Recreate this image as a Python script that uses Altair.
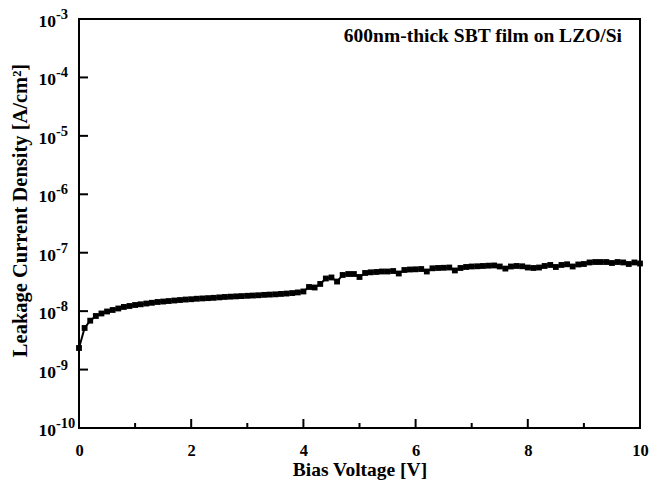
import altair as alt
import pandas as pd

# Bias voltage [V]
voltage = [
    0.0, 0.1, 0.2, 0.3, 0.4, 0.5, 0.6, 0.7, 0.8, 0.9,
    1.0, 1.1, 1.2, 1.3, 1.4, 1.5, 1.6, 1.7, 1.8, 1.9,
    2.0, 2.1, 2.2, 2.3, 2.4, 2.5, 2.6, 2.7, 2.8, 2.9,
    3.0, 3.1, 3.2, 3.3, 3.4, 3.5, 3.6, 3.7, 3.8, 3.9,
    4.0, 4.1, 4.2, 4.3, 4.4, 4.5, 4.6, 4.7, 4.8, 4.9,
    5.0, 5.1, 5.2, 5.3, 5.4, 5.5, 5.6, 5.7, 5.8, 5.9,
    6.0, 6.1, 6.2, 6.3, 6.4, 6.5, 6.6, 6.7, 6.8, 6.9,
    7.0, 7.1, 7.2, 7.3, 7.4, 7.5, 7.6, 7.7, 7.8, 7.9,
    8.0, 8.1, 8.2, 8.3, 8.4, 8.5, 8.6, 8.7, 8.8, 8.9,
    9.0, 9.1, 9.2, 9.3, 9.4, 9.5, 9.6, 9.7, 9.8, 9.9,
    10.0,
]

# Leakage current density [A/cm^2]
current = [
    2.34e-9, 5.15e-9, 6.87e-9, 8.26e-9, 9.12e-9, 9.86e-9, 1.047e-8, 1.11e-8, 1.18e-8, 1.225e-8,
    1.274e-8, 1.31e-8, 1.35e-8, 1.39e-8, 1.435e-8, 1.46e-8, 1.49e-8, 1.52e-8, 1.55e-8, 1.58e-8,
    1.60e-8, 1.63e-8, 1.65e-8, 1.67e-8, 1.69e-8, 1.72e-8, 1.75e-8, 1.77e-8, 1.79e-8, 1.81e-8,
    1.83e-8, 1.85e-8, 1.87e-8, 1.90e-8, 1.92e-8, 1.94e-8, 1.97e-8, 2.00e-8, 2.04e-8, 2.09e-8,
    2.17e-8, 2.59e-8, 2.54e-8, 2.92e-8, 3.62e-8, 3.77e-8, 3.21e-8, 4.16e-8, 4.32e-8, 4.32e-8,
    3.84e-8, 4.50e-8, 4.62e-8, 4.68e-8, 4.77e-8, 4.77e-8, 4.86e-8, 4.41e-8, 5.06e-8, 5.16e-8,
    5.20e-8, 5.26e-8, 4.77e-8, 5.41e-8, 5.48e-8, 5.52e-8, 5.58e-8, 4.97e-8, 5.48e-8, 5.70e-8,
    5.81e-8, 5.86e-8, 5.93e-8, 6.00e-8, 6.05e-8, 5.81e-8, 5.35e-8, 5.81e-8, 5.93e-8, 5.86e-8,
    5.58e-8, 5.48e-8, 5.58e-8, 5.93e-8, 6.17e-8, 5.70e-8, 6.17e-8, 6.34e-8, 5.81e-8, 6.29e-8,
    6.41e-8, 6.81e-8, 6.93e-8, 6.93e-8, 6.93e-8, 6.67e-8, 6.93e-8, 6.81e-8, 6.41e-8, 6.81e-8,
    6.54e-8,
]

x_major = [0, 2, 4, 6, 8, 10]
x_minor = [1, 3, 5, 7, 9]
y_decades = [1e-10, 1e-9, 1e-8, 1e-7, 1e-6, 1e-5, 1e-4, 1e-3]
y_base = ["10", "10", "10", "10", "10", "10", "10", "10"]
y_exponent = ["-10", "-9", "-8", "-7", "-6", "-5", "-4", "-3"]

annotation = ["600nm-thick SBT film on LZO/Si"]
annotation_x = [7.2]
annotation_y = [5.1e-4]

FONT = "Liberation Serif"

df = pd.DataFrame({"V": voltage, "J": current})
xmaj = pd.DataFrame({"V": x_major})
xmin = pd.DataFrame({"V": x_minor})
ydec = pd.DataFrame({"J": y_decades, "base": y_base, "exp": y_exponent})
ann = pd.DataFrame({"t": annotation, "V": annotation_x, "J": annotation_y})

xscale = alt.Scale(domain=[0, 10], nice=False, zero=False)
yscale = alt.Scale(type="log", domain=[1e-10, 1e-3], nice=False)

xenc = alt.X(
    "V:Q",
    scale=xscale,
    axis=alt.Axis(
        values=x_major,
        format="d",
        title="Bias Voltage [V]",
        tickSize=0,
        domain=False,
        grid=False,
        labelPadding=14,
        labelFontSize=16.5,
        labelFontWeight="bold",
        labelFont=FONT,
        labelColor="black",
        labelFlush=False,
        titleFont=FONT,
        titleFontSize=19.5,
        titleFontWeight="bold",
        titleColor="black",
        titleBaseline="alphabetic",
        titleY=47,
    ),
)
yenc = alt.Y(
    "J:Q",
    scale=yscale,
    axis=alt.Axis(
        values=y_decades,
        labels=False,
        title="Leakage Current Density [A/cm²]",
        tickSize=0,
        domain=False,
        grid=False,
        titleFont=FONT,
        titleFontSize=20.5,
        titleFontWeight="bold",
        titleColor="black",
        titleAngle=-90,
        titleAlign="center",
        titleBaseline="middle",
        titleX=-59,
        titleY=191,
    ),
)

line = alt.Chart(df).mark_line(color="black", strokeWidth=2).encode(x=xenc, y=yenc)
pts = alt.Chart(df).mark_point(
    shape="square", filled=True, color="black", size=34, opacity=1
).encode(x="V:Q", y="J:Q")

tick_major = alt.Chart(xmaj).mark_rule(color="black", strokeWidth=2).encode(
    x="V:Q", y=alt.value(409), y2=alt.value(400)
)
tick_minor = alt.Chart(xmin).mark_rule(color="black", strokeWidth=2).encode(
    x="V:Q", y=alt.value(409), y2=alt.value(404)
)
tick_y = alt.Chart(ydec).mark_rule(color="black", strokeWidth=2).encode(
    y="J:Q", x=alt.value(0), x2=alt.value(9)
)

ylab_base = alt.Chart(ydec).mark_text(
    font=FONT, fontSize=17.5, fontWeight="bold", color="black",
    align="right", baseline="alphabetic", dy=8,
).encode(y="J:Q", x=alt.value(-23), text="base:N")
ylab_exp = alt.Chart(ydec).mark_text(
    font=FONT, fontSize=14.5, fontWeight="bold", color="black",
    align="left", baseline="alphabetic", dy=0,
).encode(y="J:Q", x=alt.value(-23), text="exp:N")

label = alt.Chart(ann).mark_text(
    font=FONT, fontSize=19.5, fontWeight="bold", color="black", align="center", baseline="middle"
).encode(x="V:Q", y="J:Q", text="t:N")

chart = (
    alt.layer(line, pts, tick_major, tick_minor, tick_y, ylab_base, ylab_exp, label)
    .properties(
        width=561,
        height=409,
        padding={"left": 79, "top": 19, "right": 21, "bottom": 53},
        autosize=alt.AutoSizeParams(type="none"),
        background="white",
    )
    .configure_view(stroke="black", strokeWidth=2)
)

chart.save("out.html", embed_options={"renderer": "svg", "actions": False})
